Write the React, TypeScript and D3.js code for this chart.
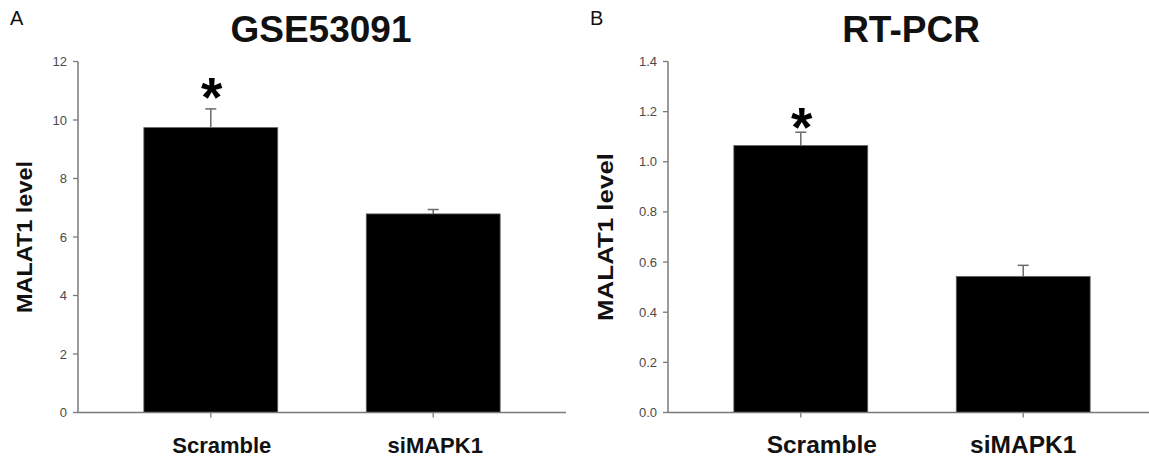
import * as d3 from 'd3';

// bar values (mean, upper error)
const categories = ['Scramble', 'siMAPK1'];
const geoMeans = [9.74, 6.79];
const geoErrors = [0.64, 0.15];
const pcrMeans = [1.065, 0.543];
const pcrErrors = [0.053, 0.044];
const geoTicks = [0, 2, 4, 6, 8, 10, 12];
const pcrTicks = [0, 0.2, 0.4, 0.6, 0.8, 1.0, 1.2, 1.4];
const significant = [true, false];

const FONT = '"Liberation Sans", Arial, sans-serif';

type PanelProps = {
  offset: number;
  letter: string;
  letterX: number;
  title: string;
  means: number[];
  errors: number[];
  ticks: number[];
  fmt: (v: number) => string;
  yLabelX: number;
  yLabelLen: number;
  xLabelSize: number;
  xLabelDx: number[];
  starGap: number;
};

function Panel(p: PanelProps) {
  const x0 = p.offset + 78;
  const axisW = 488;
  const yMax = p.ticks[p.ticks.length - 1];

  const x = d3.scaleBand<string>()
    .domain(categories)
    .range([x0, x0 + axisW])
    .paddingInner(0.398)
    .paddingOuter(0.296);
  const y = d3.scaleLinear().domain([0, yMax]).range([412.5, 61.5]);

  const bw = x.bandwidth();

  return (
    <g fontFamily={FONT}>
      <text x={p.letterX} y={25} fontSize={20} fill="#111">{p.letter}</text>
      <text x={p.offset + 321} y={42} fontSize={37} fontWeight="bold" textAnchor="middle" fill="#111">
        {p.title}
      </text>

      {/* y axis */}
      <line x1={x0} x2={x0} y1={y(0)} y2={y(yMax)} stroke="#7a7a7a" strokeWidth={1.5} />
      {p.ticks.map(t => (
        <g key={t}>
          <line x1={x0 - 5} x2={x0} y1={y(t)} y2={y(t)} stroke="#7a7a7a" strokeWidth={1.3} />
          <text x={x0 - 11} y={y(t)} dy="0.35em" textAnchor="end" fontSize={13} fill="#4a4a4a">
            {p.fmt(t)}
          </text>
        </g>
      ))}
      <text
        transform={`translate(${p.yLabelX},${237}) rotate(-90)`}
        textAnchor="middle"
        fontSize={22}
        fontWeight="bold"
        fill="#111"
        textLength={p.yLabelLen}
        lengthAdjust="spacingAndGlyphs"
      >
        MALAT1 level
      </text>

      {/* bars */}
      {categories.map((c, i) => {
        const cx = x(c)! + bw / 2;
        const top = y(p.means[i] + p.errors[i]);
        return (
          <g key={c}>
            <line x1={cx} x2={cx} y1={y(p.means[i])} y2={top} stroke="#6a6a6a" strokeWidth={1.5} />
            <line x1={cx - 5.5} x2={cx + 5.5} y1={top} y2={top} stroke="#6a6a6a" strokeWidth={1.5} />
            <rect x={x(c)} y={y(p.means[i])} width={bw} height={y(0) - y(p.means[i])}
              fill="#000" stroke="#666" strokeWidth={0.8} />
            {significant[i] && (
              <text x={cx + 1} y={top - p.starGap + 24} textAnchor="middle" fontSize={55} fontWeight="bold" fill="#000">
                *
              </text>
            )}
          </g>
        );
      })}

      {/* x axis */}
      <line x1={x0} x2={x0 + axisW} y1={y(0)} y2={y(0)} stroke="#7a7a7a" strokeWidth={1.5} />
      {categories.map((c, i) => {
        const cx = x(c)! + bw / 2;
        return (
          <g key={c}>
            <line x1={cx} x2={cx} y1={y(0)} y2={y(0) + 5} stroke="#7a7a7a" strokeWidth={1.3} />
            <text x={cx + p.xLabelDx[i]} y={453} textAnchor="middle" fontSize={p.xLabelSize} fontWeight="bold" fill="#111">
              {c}
            </text>
          </g>
        );
      })}
    </g>
  );
}

export default function App() {
  const f0 = d3.format('d');
  const f1 = d3.format('.1f');
  return (
    <svg
      width={1149}
      height={460}
      style={{ position: 'absolute', left: 0, top: 0, background: '#fff', display: 'block' }}
    >
      <rect width={1149} height={460} fill="#fff" />
      <Panel offset={0} letter="A" letterX={10} title="GSE53091" means={geoMeans} errors={geoErrors}
        ticks={geoTicks} fmt={f0} yLabelX={32} yLabelLen={152} xLabelSize={22} xLabelDx={[11, 2]} starGap={17} />
      <Panel offset={590} letter="B" letterX={590} title="RT-PCR" means={pcrMeans} errors={pcrErrors}
        ticks={pcrTicks} fmt={f1} yLabelX={613} yLabelLen={168} xLabelSize={24.5} xLabelDx={[21, 0]} starGap={10} />
    </svg>
  );
}
